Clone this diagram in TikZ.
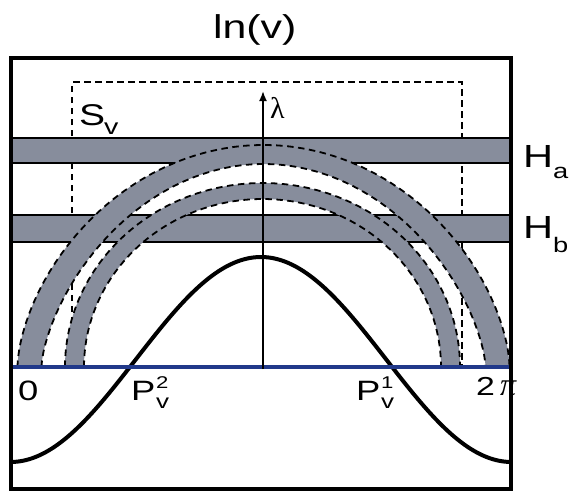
\documentclass[tikz,border=0pt]{standalone}
\usepackage{fontspec}
\setmainfont{Liberation Sans}[FakeStretch=1.3]
\newfontfamily\grkfont{Liberation Serif}
\usetikzlibrary{arrows.meta}
\definecolor{bandgray}{RGB}{135,141,156}
\definecolor{baseblue}{RGB}{33,57,138}
\begin{document}
\begin{tikzpicture}[x=1pt,y=-1pt,
  lab/.style={anchor=base west,inner sep=0pt,outer sep=0pt},
  arcedge/.style={line width=1.8pt,dash pattern=on 6.5pt off 4.5pt},
  rectdash/.style={line width=1.6pt,dash pattern=on 6.5pt off 4.5pt},
  hline/.style={line width=2pt},
  thickcurve/.style={line width=4pt},
  frame/.style={line width=4pt}]
\useasboundingbox (0,0) rectangle (570,493);
% dashed region S_v
\coordinate (sbl) at (72,367);
\coordinate (stl) at (72,82);
\coordinate (str) at (462,82);
\coordinate (sbr) at (462,367);
\draw[rectdash] (sbl) -- (stl) -- (str) -- (sbr);
% horizontal bands
\fill[bandgray] (10.5,138) rectangle (511,163);
\draw[hline] (10.5,138) -- (511,138);
\draw[hline] (10.5,163) -- (511,163);
\fill[bandgray] (10.5,214.5) rectangle (511,241.5);
\draw[hline] (10.5,214.5) -- (511,214.5);
\draw[hline] (10.5,241.5) -- (511,241.5);
% outer arc band
\fill[bandgray] plot[domain=-90:90,samples=121,variable=\t] ({263.5+246*sin(\t)},{367-222*pow(max(cos(\t),0.0001),1.2)})
  -- plot[domain=90:-90,samples=121,variable=\t] ({263.5+222*sin(\t)},{367-203*pow(max(cos(\t),0.0001),1.3)}) -- cycle;
% inner arc band
\fill[bandgray] plot[domain=-90:90,samples=121,variable=\t] ({262.5+197.5*sin(\t)},{367-184*pow(max(cos(\t),0.0001),1.0)})
  -- plot[domain=90:-90,samples=121,variable=\t] ({262.5+178.5*sin(\t)},{367-168*pow(max(cos(\t),0.0001),1.0)}) -- cycle;
% dashed edges
\draw[arcedge] plot[domain=-90:90,samples=121,variable=\t] ({263.5+246*sin(\t)},{367-222*pow(max(cos(\t),0.0001),1.2)});
\draw[arcedge] plot[domain=-90:90,samples=121,variable=\t] ({263.5+222*sin(\t)},{367-203*pow(max(cos(\t),0.0001),1.3)});
\draw[arcedge] plot[domain=-90:90,samples=121,variable=\t] ({262.5+197.5*sin(\t)},{367-184*pow(max(cos(\t),0.0001),1.0)});
\draw[arcedge] plot[domain=-90:90,samples=121,variable=\t] ({262.5+178.5*sin(\t)},{367-168*pow(max(cos(\t),0.0001),1.0)});
% cosine curve
\draw[thickcurve] plot[domain=-180:180,samples=160,variable=\t] ({261+1.39167*\t},{359.5-102.5*cos(\t)});
% baseline
\coordinate (bl) at (12,367);
\coordinate (br) at (511,367);
\draw[line width=4pt,baseblue] (bl) -- (br);
% lambda axis
\coordinate (axbot) at (263,369);
\coordinate (axtop) at (263,91);
\draw[line width=1.8pt,-{Latex[length=10pt,width=8pt]}] (axbot) -- (axtop);
% frame
\draw[frame] (10.5,58) rectangle (511,489);
% labels
\node[lab,font=\fontsize{33}{33}\selectfont] (title) at (213,38) {ln(v)};
\node[lab,font=\fontsize{30}{30}\selectfont] (S) at (79,125) {S};
\node[lab,font=\fontsize{22}{22}\selectfont] (Ssub) at (104,134) {v};
\node[lab,font=\fontsize{32}{32}\selectfont] (Ha) at (523,167) {H};
\node[lab,font=\fontsize{21}{21}\selectfont] (Hasub) at (553,178) {a};
\node[lab,font=\fontsize{32}{32}\selectfont] (Hb) at (523,238) {H};
\node[lab,font=\fontsize{21}{21}\selectfont] (Hbsub) at (553,252) {b};
\node[lab,font=\fontsize{28}{28}\selectfont] (zero) at (18,400) {0};
\node[lab,font=\fontsize{28}{28}\selectfont] (P2) at (131,400) {P};
\node[lab,font=\fontsize{17}{17}\selectfont] (P2sup) at (156,388) {2};
\node[lab,font=\fontsize{20}{20}\selectfont] (P2sub) at (156,408) {v};
\node[lab,font=\fontsize{28}{28}\selectfont] (P1) at (356,400) {P};
\node[lab,font=\fontsize{17}{17}\selectfont] (P1sup) at (381,388) {1};
\node[lab,font=\fontsize{20}{20}\selectfont] (P1sub) at (381,408) {v};
\node[lab,font=\fontsize{26}{26}\selectfont] (two) at (476,395) {2};
\node[lab,font=\grkfont\itshape\fontsize{32}{32}\selectfont] (pi) at (500,395) {π};
\node[lab,font=\grkfont\fontsize{30}{30}\selectfont] (lam) at (270,118) {λ};
\end{tikzpicture}
\end{document}
